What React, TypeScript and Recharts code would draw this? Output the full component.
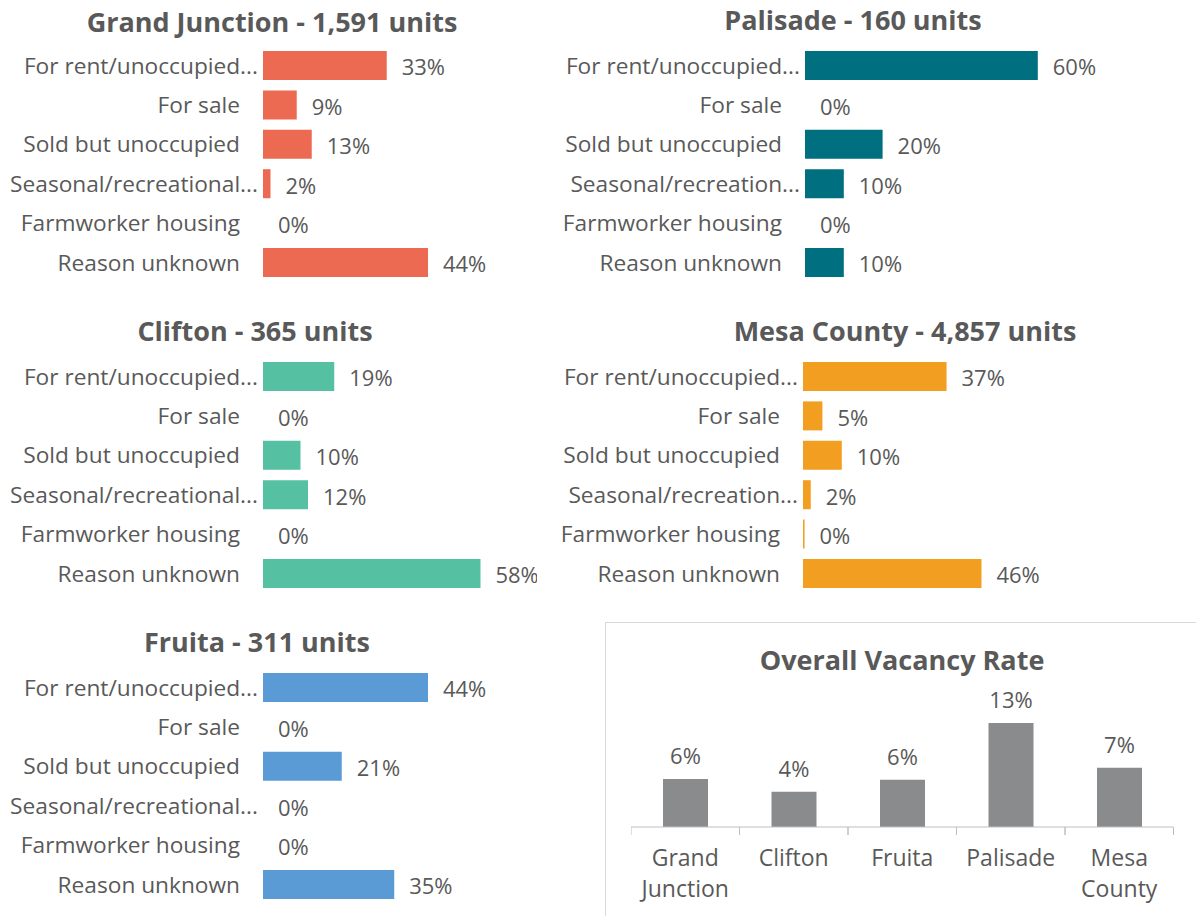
import { Bar, BarChart, LabelList, XAxis, YAxis } from "recharts";

const CATEGORIES = [
  "For rent/unoccupied",
  "For sale",
  "Sold but unoccupied",
  "Seasonal/recreational",
  "Farmworker housing",
  "Reason unknown",
];
const LEFT_TICKS = [
  "For rent/unoccupied...",
  "For sale",
  "Sold but unoccupied",
  "Seasonal/recreational...",
  "Farmworker housing",
  "Reason unknown",
];
const RIGHT_TICKS = [
  "For rent/unoccupied...",
  "For sale",
  "Sold but unoccupied",
  "Seasonal/recreation...",
  "Farmworker housing",
  "Reason unknown",
];

const GRAND_JUNCTION = [33, 9, 13, 2, 0, 44];
const PALISADE = [60, 0, 20, 10, 0, 10];
const CLIFTON = [19, 0, 10, 12, 0, 58];
const MESA_COUNTY = [37, 5, 10, 2, 0.4, 46];
const FRUITA = [44, 0, 21, 0, 0, 35];

const PLACES = ["Grand Junction", "Clifton", "Fruita", "Palisade", "Mesa County"];
const OVERALL_RATE = [6.0, 4.4, 5.9, 13.0, 7.4];

const TEXT = "#595959";
const FONT = '"Open Sans", sans-serif';

const rowsFor = (values: number[], ticks: string[]) =>
  CATEGORIES.map((c, i) => ({ category: c, tick: ticks[i], value: values[i] }));

const pct = (v: any) => `${Math.round(Number(v))}%`;

function CategoryTick({ x, y, payload }: any) {
  const text: string = payload.value;
  const trunc = text.endsWith("...");
  return (
    <text
      x={x - (trunc ? 5 : 23)}
      y={y}
      dy="0.35em"
      textAnchor="end"
      fill={TEXT}
      fontSize={22.7}
      fontFamily={FONT}
    >
      {text}
    </text>
  );
}

function Panel({
  values,
  ticks,
  color,
  left,
  top,
  width,
  axisWidth,
  plotWidth,
}: {
  values: number[];
  ticks: string[];
  color: string;
  left: number;
  top: number;
  width: number;
  axisWidth: number;
  plotWidth: number;
}) {
  const data = rowsFor(values, ticks);
  return (
    <div style={{ position: "absolute", left, top }}>
      <BarChart
        width={width}
        height={236.4}
        data={data}
        layout="vertical"
        margin={{ top: 0, right: width - axisWidth - plotWidth, left: 0, bottom: 0 }}
      >
        <XAxis type="number" domain={[0, 70]} hide />
        <YAxis
          type="category"
          dataKey="tick"
          width={axisWidth}
          axisLine={false}
          tickLine={false}
          tickSize={0}
          tickMargin={0}
          interval={0}
          tick={<CategoryTick />}
        />
        <Bar
          dataKey="value"
          fill={color}
          barSize={29}
          minPointSize={0.01}
          isAnimationActive={false}
        >
          <LabelList
            dataKey="value"
            position="right"
            offset={15}
            formatter={pct}
            fill={TEXT}
            fontSize={22}
            fontFamily={FONT}
            dy={2}
          />
        </Bar>
      </BarChart>
    </div>
  );
}

function Title({ text, cx, cy }: { text: string; cx: number; cy: number }) {
  return (
    <div
      style={{
        position: "absolute",
        left: cx - 300,
        top: cy - 18,
        width: 600,
        lineHeight: "36px",
        textAlign: "center",
        fontWeight: 700,
        fontSize: 27,
        color: TEXT,
        whiteSpace: "nowrap",
      }}
    >
      {text}
    </div>
  );
}

const BAND = 108.5;

function PlaceTick({ x, y, payload }: any) {
  const lines: string[] = String(payload.value).split(" ");
  return (
    <g>
      <line x1={x - BAND / 2} x2={x - BAND / 2} y1={y} y2={y + 8} stroke="#bfbfbf" />
      <line x1={x + BAND / 2} x2={x + BAND / 2} y1={y} y2={y + 8} stroke="#bfbfbf" />
      {lines.map((l, i) => (
        <text
          key={i}
          x={x}
          y={y + 31 + i * 31}
          dy="0.35em"
          textAnchor="middle"
          fill={TEXT}
          fontSize={23}
          fontFamily={FONT}
        >
          {l}
        </text>
      ))}
    </g>
  );
}

export default function App() {
  const overall = PLACES.map((p, i) => ({ place: p, value: OVERALL_RATE[i] }));
  return (
    <div
      style={{
        position: "relative",
        width: 1196,
        height: 916,
        overflow: "hidden",
        background: "#fff",
        fontFamily: FONT,
      }}
    >
      <style>{`body{margin:0}`}</style>

      <Title text="Grand Junction - 1,591 units" cx={272} cy={22} />
      <Title text="Palisade - 160 units" cx={853} cy={20} />
      <Title text="Clifton - 365 units" cx={255} cy={331} />
      <Title text="Mesa County - 4,857 units" cx={905} cy={331} />
      <Title text="Fruita - 311 units" cx={257} cy={642} />

      <Panel values={GRAND_JUNCTION} ticks={LEFT_TICKS} color="#EC6A52" left={0} top={46.3} width={537} axisWidth={263} plotWidth={262.5} />
      <Panel values={CLIFTON} ticks={LEFT_TICKS} color="#56C1A2" left={0} top={357.3} width={537} axisWidth={263} plotWidth={262.5} />
      <Panel values={FRUITA} ticks={LEFT_TICKS} color="#5B9BD5" left={0} top={668.3} width={537} axisWidth={263} plotWidth={262.5} />
      <Panel values={PALISADE} ticks={RIGHT_TICKS} color="#006F80" left={540} top={46.3} width={656} axisWidth={265} plotWidth={271.6} />
      <Panel values={MESA_COUNTY} ticks={RIGHT_TICKS} color="#F29E21" left={540} top={357.3} width={656} axisWidth={263} plotWidth={271.6} />

      <div
        style={{
          position: "absolute",
          left: 605,
          top: 622,
          width: 620,
          height: 320,
          border: "1.5px solid #d9d9d9",
        }}
      />
      <Title text="Overall Vacancy Rate" cx={902} cy={660} />
      <div style={{ position: "absolute", left: 631, top: 679 }}>
        <BarChart
          width={542.5}
          height={237}
          data={overall}
          margin={{ top: 20, right: 0, left: 0, bottom: 0 }}
        >
          <YAxis hide domain={[0, 16]} />
          <XAxis
            dataKey="place"
            height={89}
            interval={0}
            axisLine={{ stroke: "#bfbfbf" }}
            tickLine={false}
            tickSize={0}
            tickMargin={0}
            tick={<PlaceTick />}
          />
          <Bar dataKey="value" fill="#898B8D" barSize={45} isAnimationActive={false}>
            <LabelList
              dataKey="value"
              position="top"
              offset={15}
              formatter={pct}
              fill={TEXT}
              fontSize={22}
              fontFamily={FONT}
            />
          </Bar>
        </BarChart>
      </div>
    </div>
  );
}
